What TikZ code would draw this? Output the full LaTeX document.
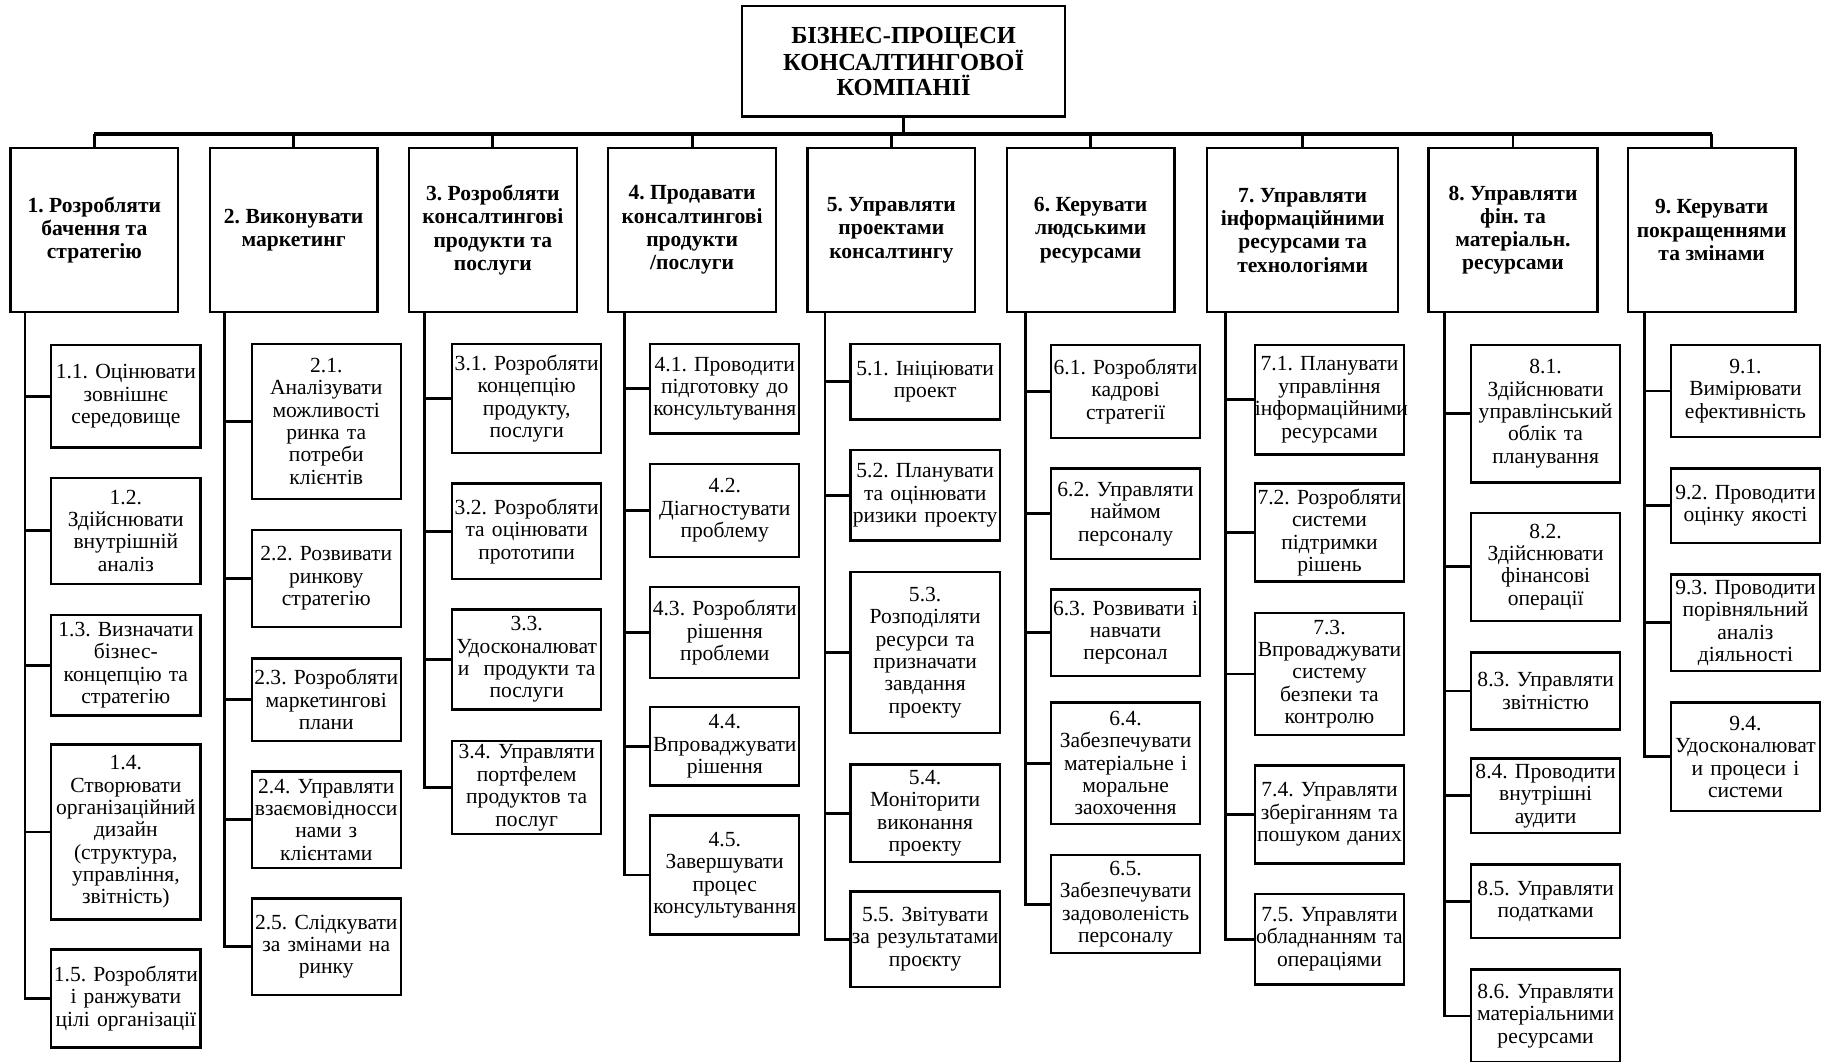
\documentclass[tikz,border=0pt]{standalone}
\usepackage{fontspec}
\setmainfont{Liberation Serif}
\frenchspacing

\begin{document}
\begin{tikzpicture}[x=1pt,y=-1pt,
    head/.style={draw,line width=2pt,minimum width=277,minimum height=95,align=center,font=\bfseries\fontsize{21}{21.5}\selectfont},
    proc/.style={draw,line width=2pt,minimum width=144,minimum height=141,align=center,inner xsep=1pt,font=\bfseries\fontsize{18.5}{20}\selectfont},
    leaf/.style={draw,line width=2pt,text width=128,inner xsep=0pt,inner ysep=1pt,align=center,font=\fontsize{18.5}{19.2}\selectfont},
    link/.style={line width=2.4pt},
    bus/.style={line width=2.8pt}]
\useasboundingbox (0,0) rectangle (1568,911);

\node[head] (top) at (775.5,52.5) {БІЗНЕС-ПРОЦЕСИ\\КОНСАЛТИНГОВОЇ\\КОМПАНІЇ};

\node[proc] (p1) at (81,197.5) {1. Розробляти\\бачення та\\стратегію};
\node[proc] (p2) at (252,197.5) {2. Виконувати\\маркетинг};
\node[proc] (p3) at (423,197.5) {3. Розробляти\\консалтингові\\продукти та\\послуги};
\node[proc] (p4) at (594,197.5) {4. Продавати\\консалтингові\\продукти\\/послуги};
\node[proc] (p5) at (765,197.5) {5. Управляти\\проектами\\консалтингу};
\node[proc] (p6) at (936,197.5) {6. Керувати\\людськими\\ресурсами};
\node[proc,minimum width=164] (p7) at (1118,197.5) {7. Управляти\\інформаційними\\ресурсами та\\технологіями};
\node[proc,minimum width=145] (p8) at (1298.5,197.5) {8. Управляти\\фін. та\\матеріальн.\\ресурсами};
\node[proc] (p9) at (1469,197.5) {9. Керувати\\покращеннями\\та змінами};

\node[leaf,minimum height=88] (n11) at (108,340) {1.1. Оцінювати\\зовнішнє\\середовище};
\node[leaf,minimum height=91] (n12) at (108,455.5) {1.2.\\Здійснювати\\внутрішній\\аналіз};
\node[leaf,minimum height=86] (n13) at (108,571) {1.3. Визначати\\бізнес-\\концепцію та\\стратегію};
\node[leaf,minimum height=150] (n14) at (108,714) {1.4.\\Створювати\\організаційний\\дизайн\\(структура,\\управління,\\звітність)};
\node[leaf,minimum height=84] (n15) at (108,857) {1.5. Розробляти\\і ранжувати\\цілі організації};

\node[leaf,minimum height=133] (n21) at (280,361.5) {2.1.\\Аналізувати\\можливості\\ринка та\\потреби\\клієнтів};
\node[leaf,minimum height=83] (n22) at (280,496.5) {2.2. Розвивати\\ринкову\\стратегію};
\node[leaf,minimum height=71] (n23) at (280,600.5) {2.3. Розробляти\\маркетингові\\плани};
\node[leaf,minimum height=83] (n24) at (280,703.5) {2.4. Управляти\\взаємовідносси\\нами з\\клієнтами};
\node[leaf,minimum height=83] (n25) at (280,812.5) {2.5. Слідкувати\\за змінами на\\ринку};

\node[leaf,minimum height=94] (n31) at (452,342) {3.1. Розробляти\\концепцію\\продукту,\\послуги};
\node[leaf,minimum height=82] (n32) at (452,456) {3.2. Розробляти\\та оцінювати\\прототипи};
\node[leaf,minimum height=86] (n33) at (452,566) {3.3.\\Удосконалюват\\и\ \ продукти та\\послуги};
\node[leaf,minimum height=80] (n34) at (452,676) {3.4. Управляти\\портфелем\\продуктов та\\послуг};

\node[leaf,minimum height=77] (n41) at (622,333.5) {4.1. Проводити\\підготовку до\\консультування};
\node[leaf,minimum height=80] (n42) at (622,438) {4.2.\\Діагностувати\\проблему};
\node[leaf,minimum height=78] (n43) at (622,543) {4.3. Розробляти\\рішення\\проблеми};
\node[leaf,minimum height=67] (n44) at (622,640.5) {4.4.\\Впроваджувати\\рішення};
\node[leaf,minimum height=102] (n45) at (622,751) {4.5.\\Завершувати\\процес\\консультування};

\node[leaf,minimum height=65] (n51) at (794,327.5) {5.1. Ініціювати\\проект};
\node[leaf,minimum height=78] (n52) at (794,425) {5.2. Планувати\\та оцінювати\\ризики проекту};
\node[leaf,minimum height=138] (n53) at (794,560) {5.3.\\Розподіляти\\ресурси та\\призначати\\завдання\\проекту};
\node[leaf,minimum height=84] (n54) at (794,698) {5.4.\\Моніторити\\виконання\\проекту};
\node[leaf,minimum height=82] (n55) at (794,806) {5.5. Звітувати\\за результатами\\проєкту};

\node[leaf,minimum height=80] (n61) at (966,336) {6.1. Розробляти\\кадрові\\стратегії};
\node[leaf,minimum height=78] (n62) at (966,441) {6.2. Управляти\\наймом\\персоналу};
\node[leaf,minimum height=74] (n63) at (966,543) {6.3. Розвивати і\\навчати\\персонал};
\node[leaf,minimum height=104] (n64) at (966,655) {6.4.\\Забезпечувати\\матеріальне і\\моральне\\заохочення};
\node[leaf,minimum height=84] (n65) at (966,776) {6.5.\\Забезпечувати\\задоволеність\\персоналу};

\node[leaf,minimum height=94] (n71) at (1141,343) {7.1. Планувати\\управління\\інформаційними\\ресурсами};
\node[leaf,minimum height=84] (n72) at (1141,457) {7.2. Розробляти\\системи\\підтримки\\рішень};
\node[leaf,minimum height=105] (n73) at (1141,578.5) {7.3.\\Впроваджувати\\систему\\безпеки та\\контролю};
\node[leaf,minimum height=84] (n74) at (1141,699) {7.4. Управляти\\зберіганням та\\пошуком даних};
\node[leaf,minimum height=78] (n75) at (1141,806) {7.5. Управляти\\обладнанням та\\операціями};

\node[leaf,minimum height=118] (n81) at (1326.5,355) {8.1.\\Здійснювати\\управлінський\\облік та\\планування};
\node[leaf,minimum height=93] (n82) at (1326.5,486.5) {8.2.\\Здійснювати\\фінансові\\операції};
\node[leaf,minimum height=66] (n83) at (1326.5,593) {8.3. Управляти\\звітністю};
\node[leaf,minimum height=64] (n84) at (1326.5,683) {8.4. Проводити\\внутрішні\\аудити};
\node[leaf,minimum height=63] (n85) at (1326.5,773.5) {8.5. Управляти\\податками};
\node[leaf,minimum height=80] (n86) at (1326.5,872) {8.6. Управляти\\матеріальними\\ресурсами};

\node[leaf,minimum height=79] (n91) at (1498,335.5) {9.1.\\Вимірювати\\ефективність};
\node[leaf,minimum height=64] (n92) at (1498,434) {9.2. Проводити\\оцінку якості};
\node[leaf,minimum height=83] (n93) at (1498,534.5) {9.3. Проводити\\порівняльний\\аналіз\\діяльності};
\node[leaf,minimum height=93] (n94) at (1498,649.5) {9.4.\\Удосконалюват\\и процеси і\\системи};

\coordinate (bus) at ([yshift=-14pt]top.south);
\draw[bus] (top.south) -- (bus);
\draw[bus] (p1.north |- bus) -- (p9.north |- bus);
\foreach \c in {1,...,9}
    \draw[link] (p\c.north) -- (p\c.north |- bus);

\foreach \c/\n/\dx in {1/5/13.5,2/5/14,3/4/14.5,4/5/15,5/5/16,6/5/17,7/5/17,8/6/15,9/4/15.5} {
    \coordinate (t\c) at ([xshift=\dx pt]p\c.south west);
    \draw[link] (t\c) |- (n\c\n.west);
    \foreach \i in {1,...,\n}
        \draw[link] (t\c |- n\c\i.west) -- (n\c\i.west);
}

\end{tikzpicture}
\end{document}
